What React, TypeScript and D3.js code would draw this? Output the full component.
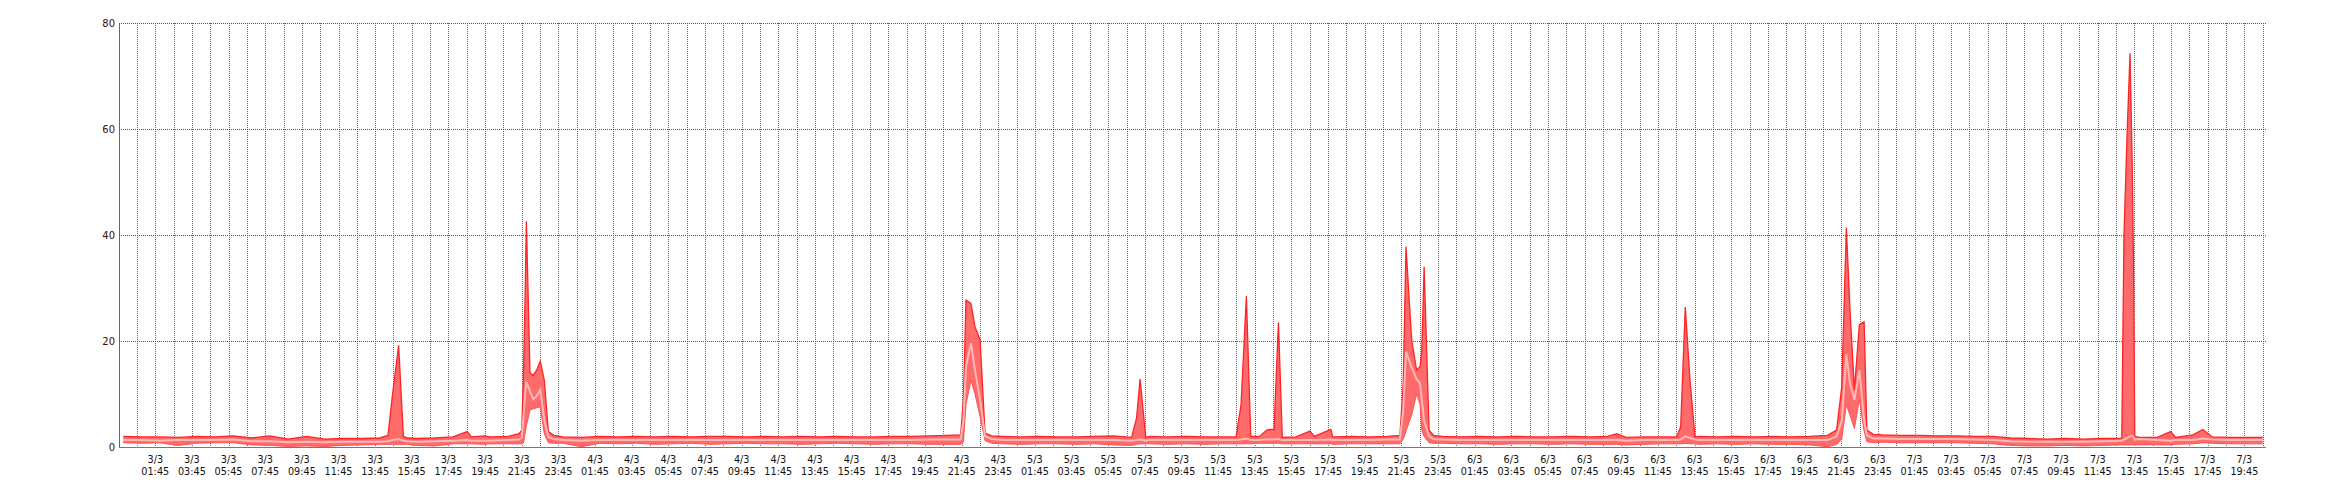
import React from 'react';
import * as d3 from 'd3';

// Hourly baseline samples, index = hours since 3/3 00:00 (0..116)
const baseMax = [
  2.0, 1.9, 1.9, 1.8, 2.0, 1.9, 2.1, 1.7, 2.1, 1.5, 2.0, 1.5,
  1.6, 1.6, 1.7, 1.7, 1.6, 1.7, 1.9, 1.9, 1.9, 2.0, 2.2, 2.1,
  1.9, 1.8, 2.0, 1.9, 2.0, 1.9, 2.0, 1.9, 2.0, 2.0, 1.9, 2.0,
  1.9, 2.0, 1.9, 2.0, 1.9, 1.9, 2.0, 2.0, 2.1, 2.2, 2.0, 2.2,
  2.0, 1.9, 2.0, 1.9, 1.9, 2.0, 2.1, 1.8, 2.0, 1.9, 2.0, 1.9,
  1.9, 2.0, 2.0, 2.0, 1.9, 2.0, 1.9, 2.0, 1.9, 2.0, 2.0, 2.0,
  2.0, 1.9, 2.0, 1.9, 2.0, 1.9, 1.9, 2.0, 1.9, 2.0, 1.8, 1.9,
  1.9, 1.9, 2.0, 1.9, 2.0, 1.9, 2.0, 1.9, 2.0, 2.2, 2.3, 2.4,
  2.3, 2.2, 2.2, 2.1, 2.1, 2.0, 2.0, 1.7, 1.6, 1.5, 1.6, 1.5,
  1.6, 1.6, 1.8, 1.8, 1.8, 2.0, 1.9, 1.8, 1.8,
];
const baseAvg = [
  1.3, 1.3, 1.2, 1.3, 1.3, 1.3, 1.4, 1.1, 1.1, 0.9, 1.0, 0.9,
  1.0, 1.0, 1.0, 1.1, 1.0, 1.1, 1.2, 1.2, 1.2, 1.3, 1.4, 1.4,
  1.3, 1.2, 1.3, 1.3, 1.3, 1.3, 1.3, 1.3, 1.3, 1.3, 1.3, 1.3,
  1.3, 1.3, 1.3, 1.3, 1.3, 1.3, 1.3, 1.3, 1.4, 1.4, 1.4, 1.4,
  1.3, 1.3, 1.3, 1.3, 1.3, 1.3, 1.3, 1.2, 1.3, 1.3, 1.3, 1.3,
  1.3, 1.3, 1.3, 1.3, 1.3, 1.3, 1.3, 1.3, 1.3, 1.4, 1.4, 1.5,
  1.4, 1.3, 1.3, 1.3, 1.3, 1.3, 1.3, 1.3, 1.3, 1.3, 1.2, 1.3,
  1.3, 1.3, 1.3, 1.3, 1.3, 1.3, 1.3, 1.3, 1.3, 1.3, 1.5, 1.6,
  1.6, 1.5, 1.5, 1.5, 1.5, 1.4, 1.3, 1.1, 1.0, 1.0, 1.0, 1.0,
  1.1, 1.2, 1.5, 1.3, 1.3, 1.4, 1.4, 1.3, 1.3,
];
const baseMin = [
  0.8, 0.7, 0.8, 0.3, 0.7, 0.8, 0.8, 0.4, 0.3, 0.1, 0.2, 0.1,
  0.3, 0.4, 0.5, 0.5, 0.3, 0.2, 0.6, 0.6, 0.6, 0.6, 0.7, 0.7,
  0.7, 0.05, 0.7, 0.6, 0.7, 0.5, 0.6, 0.7, 0.5, 0.6, 0.7, 0.6,
  0.6, 0.5, 0.6, 0.7, 0.6, 0.5, 0.6, 0.6, 0.5, 0.5, 0.6, 0.7,
  0.6, 0.5, 0.6, 0.6, 0.5, 0.6, 0.4, 0.3, 0.6, 0.5, 0.6, 0.5,
  0.6, 0.6, 0.7, 0.6, 0.6, 0.6, 0.5, 0.6, 0.6, 0.6, 0.7, 0.8,
  0.7, 0.6, 0.6, 0.5, 0.6, 0.6, 0.5, 0.6, 0.5, 0.5, 0.4, 0.5,
  0.6, 0.6, 0.5, 0.6, 0.5, 0.6, 0.5, 0.5, 0.4, 0.05, 0.6, 0.8,
  0.9, 0.8, 0.8, 0.8, 0.8, 0.7, 0.6, 0.3, 0.2, 0.2, 0.3, 0.2,
  0.3, 0.4, 0.4, 0.4, 0.5, 0.6, 0.7, 0.6, 0.6,
];

// Detailed samples around spikes (hours since 3/3 00:00)
const spikeHours = [
  14.45, 14.7, 15.03, 15.29, 15.5,
  18.77,
  19.74,
  21.6, 21.75, 21.85, 21.93, 22.0, 22.2, 22.38, 22.56, 22.76, 22.98, 23.2, 23.5,
  45.7, 45.85, 45.99, 46.26, 46.48, 46.76, 47.03, 47.4,
  55.03, 55.3, 55.49, 55.8,
  60.73, 61.0, 61.29, 61.53,
  62.4, 62.67, 62.8, 63.04, 63.25,
  64.76,
  65.9,
  69.67, 69.85, 70.0, 70.31, 70.58, 70.77, 70.86, 70.99, 71.26, 71.5,
  81.5,
  84.77, 84.99, 85.24, 85.5, 85.77,
  93.5, 93.78, 94.03, 94.23, 94.47, 94.74, 95.0, 95.15, 95.5,
  109.06, 109.18, 109.35, 109.51, 109.62, 109.7, 109.77,
  111.73,
  112.95, 113.48,
  116.75,
];
const spikeMax = [
  2.2, 10.0, 19.2, 2.0, 1.7,
  2.9,
  2.1,
  2.5, 3.2, 15.0, 28.0, 42.6, 14.0, 13.5, 14.5, 16.2, 12.6, 2.9, 2.2,
  2.3, 9.0, 27.7, 27.1, 22.7, 20.2, 2.6, 2.1,
  1.8, 5.5, 12.8, 1.8,
  1.9, 8.0, 28.5, 2.0,
  3.2, 3.3, 3.3, 23.5, 1.8,
  3.0,
  3.3,
  2.2, 12.0, 37.8, 20.2, 14.5, 15.2, 18.0, 34.0, 3.2, 2.2,
  2.5,
  1.9, 3.8, 26.4, 12.6, 1.9,
  3.2, 11.4, 41.4, 25.8, 10.8, 23.1, 23.6, 3.2, 2.4,
  1.8, 40.0, 59.0, 74.3, 55.0, 35.0, 2.0,
  2.9,
  2.3, 3.3,
  1.8,
];
const spikeAvg = [
  1.1, 1.3, 1.5, 1.2, 1.1,
  1.3,
  1.2,
  1.4, 1.8, 6.0, 10.0, 12.3, 10.5, 9.0, 9.6, 10.8, 5.0, 1.9, 1.5,
  1.4, 5.0, 15.2, 19.6, 14.5, 8.9, 2.0, 1.5,
  1.2, 1.3, 1.4, 1.2,
  1.3, 1.4, 1.6, 1.3,
  1.4, 1.4, 1.4, 1.5, 1.3,
  1.3,
  1.4,
  1.4, 7.0, 18.0, 15.0, 12.8, 12.0, 9.0, 5.0, 2.0, 1.5,
  1.3,
  1.3, 1.4, 2.0, 1.7, 1.4,
  2.0, 5.0, 17.5, 12.0, 8.9, 14.5, 5.0, 2.2, 1.6,
  1.2, 1.4, 1.7, 2.0, 2.1, 1.9, 1.4,
  1.2,
  1.3, 1.6,
  1.3,
];
const spikeMin = [
  0.5, 0.5, 0.5, 0.5, 0.5,
  0.6,
  0.5,
  0.6, 0.6, 0.8, 2.6, 4.0, 7.0, 7.2, 7.4, 7.6, 2.5, 0.8, 0.7,
  0.5, 1.0, 8.0, 12.6, 10.0, 5.7, 1.2, 0.7,
  0.3, 0.5, 0.6, 0.6,
  0.6, 0.6, 0.6, 0.6,
  0.7, 0.7, 0.7, 0.7, 0.6,
  0.6,
  0.6,
  0.6, 1.5, 3.0, 6.0, 10.0, 8.0, 3.2, 2.0, 0.8, 0.7,
  0.5,
  0.6, 0.6, 0.7, 0.6, 0.6,
  0.5, 1.5, 8.0, 6.0, 3.5, 9.0, 3.0, 1.0, 0.8,
  0.4, 0.4, 0.4, 0.4, 0.4, 0.4, 0.4,
  0.4,
  0.6, 0.8,
  0.6,
];

const yLabelValues = [0, 20, 40, 60, 80];
const yGridValues = [20, 40, 60, 80];
const firstDay = 3;
const month = 3;

type Pt = { h: number; max: number; avg: number; min: number };

export default function App() {
  const x = d3.scaleLinear().domain([-0.229, 116.93]).range([119, 2266]);
  const y = d3.scaleLinear().domain([0, 80]).range([447, 23]);

  const clusters: [number, number][] = [];
  spikeHours.forEach((h, i) => {
    if (i > 0 && h - spikeHours[i - 1] < 0.6) clusters[clusters.length - 1][1] = h;
    else clusters.push([h, h]);
  });
  const basePts: Pt[] = baseMax
    .map((v, i) => ({ h: i, max: v, avg: baseAvg[i], min: baseMin[i] }))
    .filter((p) => !clusters.some(([a, b]) => p.h >= a && p.h <= b));
  const spikePts: Pt[] = spikeHours.map((h, i) => ({ h, max: spikeMax[i], avg: spikeAvg[i], min: spikeMin[i] }));
  const points = [...basePts, ...spikePts].sort((a, b) => a.h - b.h);

  const area = d3.area<Pt>().x((d) => x(d.h)).y0((d) => y(d.min)).y1((d) => y(d.max));
  const maxLine = d3.line<Pt>().x((d) => x(d.h)).y((d) => y(d.max));
  const avgLine = d3.line<Pt>().x((d) => x(d.h)).y((d) => y(d.avg));
  const minLine = d3.line<Pt>().x((d) => x(d.h)).y((d) => y(d.min));

  const [x0, x1] = x.range();
  const vGrid = d3.range(0.75, 117, 1);
  const labelHours = d3.range(1.75, 116, 2);
  const pad = (n: number) => (n < 10 ? '0' + n : '' + n);
  const fmtDay = (h: number) => `${firstDay + Math.floor(h / 24)}/${month}`;
  const fmtTime = (h: number) => {
    const m = Math.round((h % 24) * 60);
    return `${pad(Math.floor(m / 60))}:${pad(m % 60)}`;
  };

  const font = '"DejaVu Sans", Verdana, sans-serif';

  return (
    <div style={{ position: 'absolute', left: 0, top: 0 }}>
      <svg width={2340} height={500} style={{ display: 'block', background: '#fff' }}>
        <g shapeRendering="crispEdges">
          {vGrid.map((h) => (
            <line key={'v' + h} x1={Math.round(x(h)) + 0.5} x2={Math.round(x(h)) + 0.5} y1={y(80)} y2={y(0)}
              stroke="#6a6a6a" strokeDasharray="1 1" strokeWidth={1} />
          ))}
          {yGridValues.map((v) => (
            <line key={'h' + v} x1={x0} x2={x1} y1={Math.round(y(v)) + 0.5} y2={Math.round(y(v)) + 0.5}
              stroke="#555" strokeDasharray="1 1" strokeWidth={1} />
          ))}
        </g>
        <path d={area(points) || ''} fill="#ff6a6a" />
        <path d={minLine(points) || ''} fill="none" stroke="#ff5252" strokeWidth={1} />
        <path d={maxLine(points) || ''} fill="none" stroke="#ff2424" strokeWidth={1.3} />
        <path d={avgLine(points) || ''} fill="none" stroke="#ffb8b8" strokeWidth={2} />
        <g shapeRendering="crispEdges">
          <line x1={119.5} x2={119.5} y1={y(80)} y2={y(0)} stroke="#666" strokeWidth={1} />
          <line x1={119} x2={x1} y1={447.5} y2={447.5} stroke="#777" strokeWidth={1.6} />
        </g>
        {yLabelValues.map((v) => (
          <text key={'yl' + v} x={115} y={y(v) + 3.8} textAnchor="end" fontFamily={font} fontSize={10}
            fill="#3a0a0a">{v}</text>
        ))}
        {labelHours.map((h) => (
          <text key={'xl' + h} x={x(h)} textAnchor="middle" fontFamily={font} fontSize={9.7} fill="#111">
            <tspan x={x(h)} y={462.5}>{fmtDay(h)}</tspan>
            <tspan x={x(h)} y={474.5}>{fmtTime(h)}</tspan>
          </text>
        ))}
      </svg>
    </div>
  );
}
